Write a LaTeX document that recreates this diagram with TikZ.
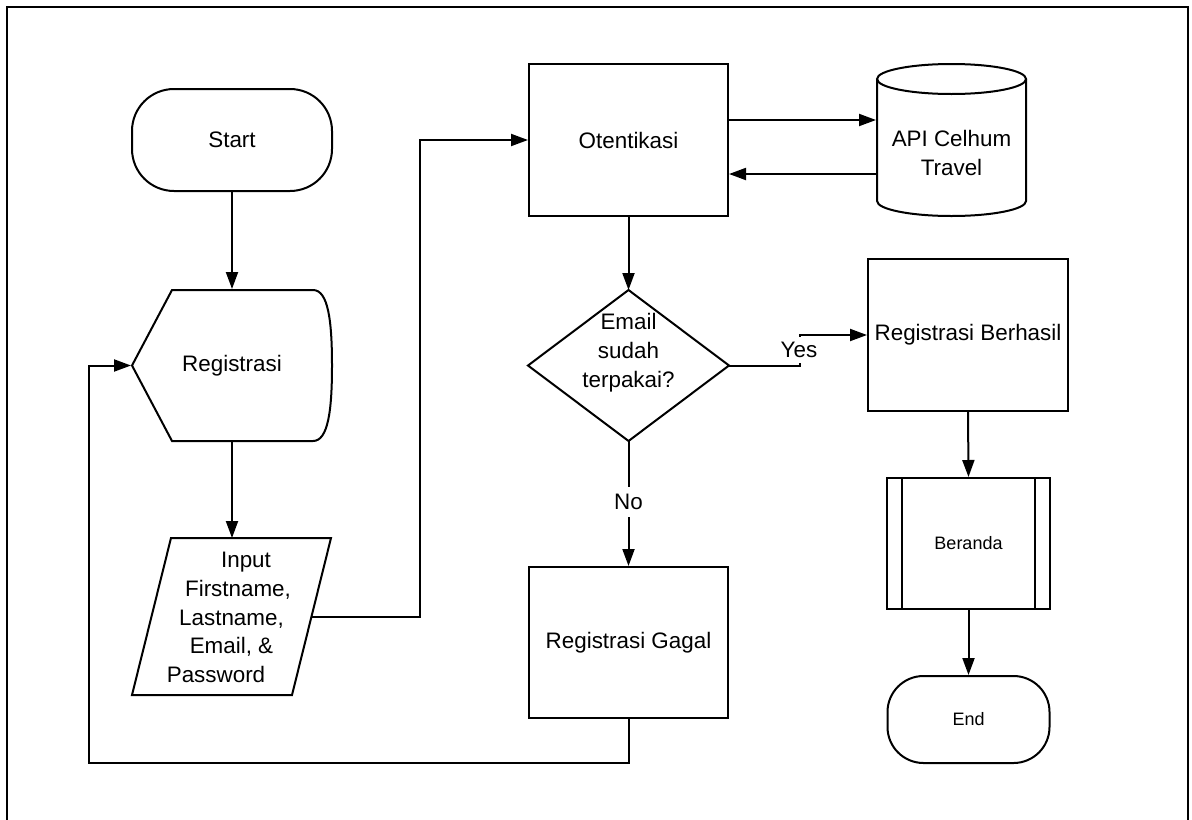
\documentclass[tikz,border=0pt]{standalone}
\usepackage{fontspec}
\setmainfont{Liberation Sans}
\usetikzlibrary{arrows.meta}
\begin{document}
\begin{tikzpicture}[x=0.5pt,y=-0.5pt,
  line width=1pt,
  every node/.style={font=\fontsize{11.2}{14.4}\selectfont, inner sep=0pt, align=center},
  arr/.style={-{Triangle[length=8.5pt,width=6pt]}},
  procbox/.style={draw, minimum width=99.5pt, minimum height=76pt},
  smalltext/.style={font=\fontsize{9}{11}\selectfont},
  lbl/.style={fill=white, minimum height=14pt},
]
\useasboundingbox (0,0) rectangle (1192,819);
% frame
\draw[line width=1.2pt] (7,822) -- (7,7) -- (1188,7) -- (1188,822);

% Start
\node[draw, rounded corners=21pt, minimum width=100pt, minimum height=51pt] (start) at (232,140) {Start};

% Registrasi (display shape)
\node[minimum width=100pt, minimum height=75.5pt] (reg) at (232,365.5) {Registrasi};
\draw (132,365.5) -- (172,290) -- (313,290)
  .. controls (328,290) and (332,320) .. (332,365.5)
  .. controls (332,411) and (328,441) .. (313,441) -- (172,441) -- cycle;

% Input (parallelogram)
\node[minimum width=100pt, minimum height=78.5pt] (inp) at (231.5,617.5)
  {\hspace*{14.5pt}Input\\ \hspace*{6.5pt}Firstname,\\ Lastname,\hspace*{1.5pt}\\ Email, \&\hspace*{8.5pt}\\ Password\hspace*{15.5pt}};
\draw (171,538) -- (331,538) -- (292,695) -- (132,695) -- cycle;
\coordinate (inpR) at (311.5,617);

% Otentikasi
\node[procbox] (oten) at (628.5,140) {Otentikasi};

% API cylinder
\node[minimum width=74.5pt, minimum height=76pt] (api) at (951.5,140) {};
\draw (877,79) -- (877,201) arc[start angle=180, end angle=360, x radius=37.25pt, y radius=7.5pt] -- (1026,79);
\draw (951.5,79) ellipse[x radius=37.25pt, y radius=7.5pt];
\node (apitext) at (951.5,153) {API Celhum\\Travel};

% Decision
\node[minimum width=99.5pt, minimum height=74.5pt] (dec) at (628.5,365.5) {};
\draw (dec.north) -- (dec.east) -- (dec.south) -- (dec.west) -- cycle;
\node (dectext) at (628.5,352.5) {Email\\sudah\\terpakai?};

% Registrasi Berhasil
\node[procbox, minimum width=100pt] (ber) at (968,335) {Registrasi Berhasil};

% Beranda (predefined process)
\node[draw, smalltext, minimum width=81.5pt, minimum height=65.5pt] (beranda) at (968.5,543.5) {Beranda};
\draw ([xshift=8pt]beranda.north west) -- ([xshift=8pt]beranda.south west);
\draw ([xshift=-8pt]beranda.north east) -- ([xshift=-8pt]beranda.south east);

% End
\node[draw, smalltext, rounded corners=18pt, minimum width=81pt, minimum height=43.5pt] (end) at (968.5,719.5) {End};

% Registrasi Gagal
\node[procbox, minimum height=75.5pt] (gagal) at (628.5,642.5) {Registrasi Gagal};

% connectors
\draw[arr] (start.south) -- (reg.north);
\draw[arr] (reg.south) -- (reg.south |- inp.north);
\draw[arr] (inpR) -- ++(108.5,0) |- (oten.west);
\draw[arr] ([yshift=10pt]oten.east) -- ([yshift=10pt]api.west);
\draw[arr] ([yshift=-17pt]api.west) -- ([yshift=-17pt]oten.east);
\draw[arr] (oten.south) -- (dec.north);
\draw[arr] (dec.east) -- ++(70.5,0) |- (ber.west);
\node[lbl, minimum height=13pt] (yes) at (799,350) {Yes};
\draw[arr] (dec.south) -- (gagal.north);
\node[lbl, minimum height=15pt] (no) at (628.5,502) {No};
\draw[arr] (ber.south) -- (beranda.north);
\draw[arr] (beranda.south) -- (end.north);
\draw[arr] (gagal.south) -- ++(0,44) -| ([xshift=-21pt]reg.west) -- (reg.west);
\end{tikzpicture}
\end{document}
